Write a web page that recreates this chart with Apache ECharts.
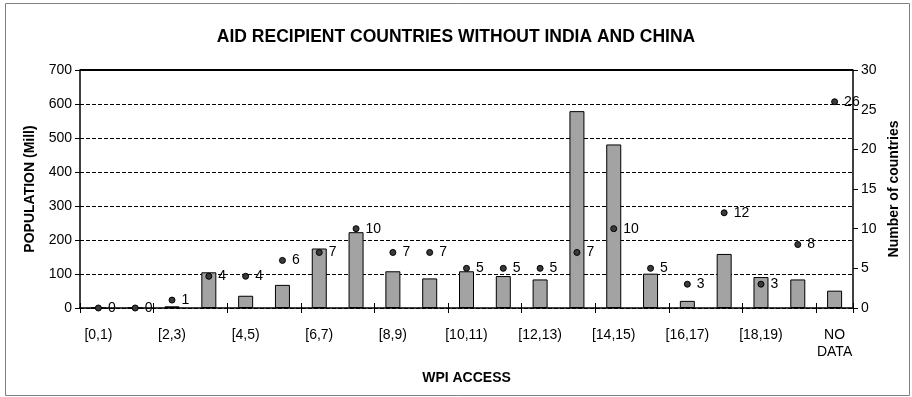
<!DOCTYPE html>
<html><head><meta charset="utf-8">
<script src="https://cdn.jsdelivr.net/npm/echarts@6/dist/echarts.min.js"></script>
<style>html,body{margin:0;padding:0;background:#fff}#c{width:912px;height:397px}</style>
</head><body><div id="c"></div>
<script>
const categories = ['[0,1)','[1,2)','[2,3)','[3,4)','[4,5)','[5,6)','[6,7)','[7,8)','[8,9)','[9,10)','[10,11)','[11,12)','[12,13)','[13,14)','[14,15)','[15,16)','[16,17)','[17,18)','[18,19)','[19,20)','NO\nDATA'];
const population = [0,0,5,105,36,68,175,223,108,87,108,94,84,579,481,101,21,159,91,84,51];
const countries = [0,0,1,4,4,6,7,10,7,7,5,5,5,7,10,5,3,12,3,8,26];
const leftTicks = [0,100,200,300,400,500,600,700];
const rightTicks = [0,5,10,15,20,25,30];

const F = 'Liberation Sans, Arial, sans-serif';
const chart = echarts.init(document.getElementById('c'), null, {renderer:'canvas'});
chart.setOption({
  animation:false,
  backgroundColor:'#fff',
  title:{text:'AID RECIPIENT COUNTRIES WITHOUT INDIA AND CHINA', left:'center', top:23,
    textStyle:{fontFamily:F, fontSize:17.5, fontWeight:'bold', color:'#000'}},
  graphic:[{type:'rect', shape:{x:5.5,y:3.5,width:904,height:392}, style:{fill:'none', stroke:'#808080', lineWidth:1}, silent:true}],
  grid:{left:80, right:59, top:70, bottom:89},
  xAxis:[{
    type:'category', data:categories, boundaryGap:true,
    name:'WPI ACCESS', nameLocation:'middle', nameGap:63,
    nameTextStyle:{fontFamily:F, fontSize:14, fontWeight:'bold', color:'#000'},
    axisLine:{lineStyle:{color:'#000', width:1.5}},
    axisTick:{show:true, inside:false, length:5, lineStyle:{color:'#000'}},
    axisLabel:{interval:1, fontFamily:F, fontSize:14, color:'#000', margin:19, lineHeight:17},
    splitLine:{show:false}
  },{
    type:'category', data:categories, boundaryGap:true, position:'bottom',
    axisLine:{show:false}, axisLabel:{show:false},
    axisTick:{show:true, inside:true, length:5, lineStyle:{color:'#000'}}
  }],
  yAxis:[{
    type:'value', min:leftTicks[0], max:leftTicks[leftTicks.length-1], interval:100,
    name:'POPULATION (Mill)', nameLocation:'middle', nameGap:43, nameRotate:90,
    nameTextStyle:{fontFamily:F, fontSize:14, fontWeight:'bold', color:'#000'},
    axisLine:{show:true, lineStyle:{color:'#000', width:1.5}},
    axisTick:{show:true, length:5, lineStyle:{color:'#000'}},
    axisLabel:{fontFamily:F, fontSize:14, color:'#000', margin:8},
    splitLine:{show:true, lineStyle:{color:'#000', type:[4,2], width:1}}
  },{
    type:'value', min:rightTicks[0], max:rightTicks[rightTicks.length-1], interval:5,
    name:'Number of countries', nameLocation:'middle', nameGap:34, nameRotate:90,
    nameTextStyle:{fontFamily:F, fontSize:14, fontWeight:'bold', color:'#000'},
    axisLine:{show:true, lineStyle:{color:'#000', width:1.5}},
    axisTick:{show:true, length:5, lineStyle:{color:'#000'}},
    axisLabel:{fontFamily:F, fontSize:14, color:'#000', margin:8},
    splitLine:{show:false}
  }],
  series:[{
    type:'bar', data:population, yAxisIndex:0, xAxisIndex:0, barWidth:15,
    itemStyle:{color:'#a3a3a3', borderColor:'#000', borderWidth:1}
  },{
    type:'scatter', data:countries, yAxisIndex:1, xAxisIndex:0, symbolSize:6, z:5,
    itemStyle:{color:'#3a3a3a', borderColor:'#000', borderWidth:1, opacity:1},
    label:{show:true, position:'right', distance:6, fontFamily:F, fontSize:14, color:'#000'}
  },{
    type:'line', data:[], markLine:{silent:true, symbol:'none', label:{show:false},
      lineStyle:{color:'#000', type:'solid', width:2}, data:[{yAxis:700}]}, yAxisIndex:0
  }]
});
</script></body></html>
